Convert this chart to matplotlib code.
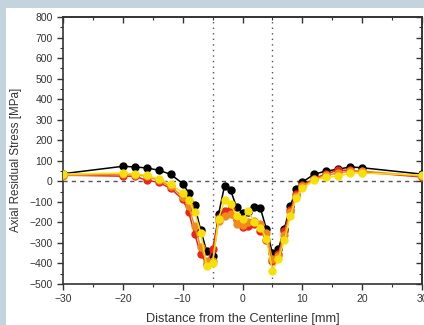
import matplotlib
matplotlib.use("Agg")
import matplotlib.pyplot as plt
from matplotlib.patches import Rectangle
from matplotlib.ticker import MultipleLocator, NullFormatter

# positions across the weld [mm]
x = [-30, -20, -18, -16, -14, -12, -10, -9, -8, -7, -6, -5, -4, -3, -2, -1, 0,
     1, 2, 3, 4, 5, 6, 7, 8, 9, 10, 12, 14, 16, 18, 20, 30]

# axial residual stress [MPa]
black = [37, 73, 70, 65, 54, 34, -11, -55, -117, -236, -340, -365, -160, -22, -43, -125, -155,
         -150, -127, -132, -233, -350, -330, -230, -120, -38, -4, 35, 50, 59, 70, 66, 35]
red = [30, 25, 25, 5, -5, -35, -88, -150, -256, -353, -402, -330, -180, -145, -135, -190, -223,
       -220, -207, -240, -288, -386, -353, -240, -142, -60, -20, 13, 37, 54, 54, 45, 21]
orange = [28, 35, 32, 25, 5, -25, -75, -120, -220, -320, -390, -390, -195, -170, -160, -210, -215,
          -200, -195, -210, -250, -380, -365, -260, -150, -70, -25, 10, 30, 40, 50, 50, 25]
yellow = [35, 40, 35, 30, 10, -15, -55, -90, -150, -250, -410, -399, -182, -93, -109, -170, -185,
          -145, -200, -225, -280, -435, -380, -288, -170, -80, -35, 5, 20, 25, 40, 40, 30]

series = [(black, "#000000"), (red, "#e8261c"), (orange, "#f08a1e"), (yellow, "#f7e00a")]

fig = plt.figure(figsize=(4.24, 3.25), dpi=100, facecolor="#c4d4de")
fig.patches.append(Rectangle((6/424, 0), 1, 1 - 8/325, transform=fig.transFigure,
                             facecolor="white", edgecolor="none", zorder=-5))
ax = fig.add_axes([63/424, 41/325, 359/424, 267/325])
ax.set_zorder(1)
ax.patch.set_alpha(0)

ax.axhline(0, color="#555555", lw=1, ls=(0, (3, 3)), zorder=1)
for xv in (-5, 5):
    ax.axvline(xv, color="#555555", lw=1, ls=(0, (1, 3)), zorder=1)

for ys, c in series:
    ax.plot(x, ys, color=c, lw=1.1, marker="o", ms=5, mec=c, mfc=c, zorder=3)

ax.set_xlim(-30, 30)
ax.set_ylim(-500, 800)
ax.xaxis.set_major_locator(MultipleLocator(10))
ax.xaxis.set_minor_locator(MultipleLocator(5))
ax.yaxis.set_major_locator(MultipleLocator(100))
ax.yaxis.set_minor_locator(MultipleLocator(50))
ax.tick_params(which="both", direction="out", labelsize=7.5,
               color="#333333", labelcolor="#333333")
ax.tick_params(which="major", length=4, width=1)
ax.tick_params(which="minor", length=2.5, width=0.8)
for s in ax.spines.values():
    s.set_linewidth(1.2)
    s.set_color("#333333")

# mirrored ticks on top and right, pointing inward
top = ax.secondary_xaxis("top")
right = ax.secondary_yaxis("right")
top.xaxis.set_major_locator(MultipleLocator(10))
top.xaxis.set_minor_locator(MultipleLocator(5))
top.xaxis.set_major_formatter(NullFormatter())
right.yaxis.set_major_locator(MultipleLocator(100))
right.yaxis.set_minor_locator(MultipleLocator(50))
right.yaxis.set_major_formatter(NullFormatter())
for sec in (top, right):
    sec.tick_params(which="both", direction="in", color="#333333")
    sec.tick_params(which="major", length=4, width=1)
    sec.tick_params(which="minor", length=2.5, width=0.8)
    for s in sec.spines.values():
        s.set_linewidth(1.2)
        s.set_color("#333333")

ax.set_xlabel("Distance from the Centerline [mm]", fontsize=9.2, color="#333333", labelpad=6,
              family="Liberation Sans")
ax.set_ylabel("Axial Residual Stress [MPa]", fontsize=8.4, color="#333333",
              family="Liberation Sans")
ax.yaxis.set_label_coords(-0.115, 0.465)
for lab in ax.get_xticklabels() + ax.get_yticklabels():
    lab.set_family("Liberation Sans")

plt.savefig("out.png", dpi=100)
